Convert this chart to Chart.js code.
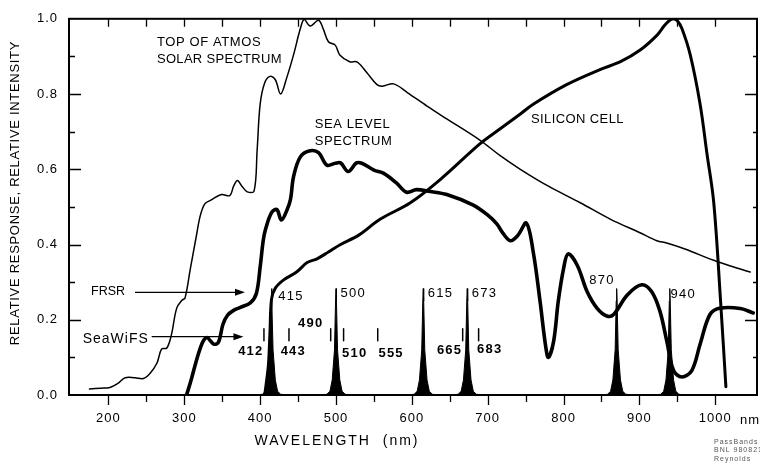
<!DOCTYPE html>
<html>
<head>
<meta charset="utf-8">
<script src="https://cdn.jsdelivr.net/npm/chart.js@4.4.1/dist/chart.umd.min.js"></script>
<style>
  html, body { margin: 0; padding: 0; background: #fff; }
</style>
</head>
<body>
<canvas id="chart" width="760" height="466"></canvas>
<script>
// top of atmosphere solar spectrum (wavelength nm, relative intensity)
var solarWl = [175, 190, 202, 212, 222, 235, 246, 255, 264, 270, 277, 283, 290, 297, 301, 308, 316, 321, 327, 335,
  349, 360, 365, 370, 376, 383, 392, 396, 400, 406, 413, 420, 427, 435, 444, 453, 458, 466, 477, 483,
  490, 499, 505, 518, 528, 541, 554, 561, 576, 594, 620, 646, 690, 716, 743, 780, 822, 862, 900, 923,
  936, 960, 998, 1020, 1046];
var solarVal = [0.016, 0.018, 0.020, 0.030, 0.046, 0.046, 0.044, 0.058, 0.085, 0.122, 0.125, 0.160, 0.231, 0.252, 0.258, 0.336, 0.424, 0.476, 0.508, 0.518,
  0.533, 0.530, 0.555, 0.570, 0.555, 0.540, 0.542, 0.650, 0.773, 0.830, 0.847, 0.838, 0.800, 0.843, 0.904, 0.974, 0.998, 0.981, 0.996, 0.974,
  0.939, 0.930, 0.904, 0.886, 0.885, 0.856, 0.825, 0.821, 0.827, 0.804, 0.768, 0.734, 0.677, 0.637, 0.600, 0.555, 0.511, 0.467, 0.432, 0.410,
  0.404, 0.388, 0.358, 0.343, 0.327];

// sea level spectrum
var seaWl = [303, 309, 316, 322, 326, 330, 334, 339, 345, 351, 357, 365, 374, 387, 395, 400, 404, 407, 415, 422,
  428, 435, 440, 444, 453, 466, 477, 488, 499, 506, 516, 527, 534, 550, 563, 580, 593, 606, 624, 646,
  681, 699, 712, 720, 730, 740, 751, 760, 769, 776, 780, 787, 793, 800, 806, 818, 831, 844, 857, 866,
  884, 903, 916, 927, 936, 945, 956, 969, 980, 993, 1007, 1033, 1050];
var seaVal = [0.0, 0.040, 0.092, 0.130, 0.147, 0.153, 0.145, 0.135, 0.140, 0.188, 0.212, 0.225, 0.233, 0.245, 0.270, 0.340, 0.410, 0.440, 0.485, 0.493,
  0.465, 0.490, 0.520, 0.580, 0.633, 0.649, 0.644, 0.611, 0.616, 0.617, 0.594, 0.617, 0.616, 0.598, 0.589, 0.563, 0.539, 0.546, 0.541, 0.533,
  0.505, 0.480, 0.455, 0.430, 0.410, 0.425, 0.457, 0.380, 0.249, 0.135, 0.100, 0.144, 0.249, 0.336, 0.375, 0.345, 0.275, 0.231, 0.210, 0.214,
  0.266, 0.293, 0.275, 0.223, 0.144, 0.065, 0.048, 0.065, 0.135, 0.214, 0.231, 0.230, 0.218];

// silicon cell response
var siliconWl = [406, 408, 411, 413, 415, 420, 431, 448, 462, 475, 490, 506, 530, 558, 598, 637, 690, 716, 743, 760,
  804, 848, 875, 901, 923, 933, 940, 945, 950, 956, 967, 980, 989, 998, 1007, 1014];
var siliconVal = [0.0, 0.030, 0.083, 0.170, 0.255, 0.284, 0.306, 0.327, 0.352, 0.362, 0.380, 0.400, 0.425, 0.467, 0.511, 0.572, 0.668, 0.707, 0.747, 0.773,
  0.825, 0.865, 0.886, 0.917, 0.956, 0.982, 0.996, 1.0, 0.995, 0.974, 0.904, 0.773, 0.642, 0.511, 0.249, 0.022];

// FRSR filter passbands: centres and one shared passband profile
var frsrBands = [415, 500, 615, 673, 870, 940];
var bandOffsets = [-20, -12, -8, -5, -2, -0.6, 0, 0.6, 2, 5, 8, 12, 20];
var bandShape = [0, 0.002, 0.01, 0.04, 0.12, 0.25, 0.283, 0.25, 0.12, 0.04, 0.01, 0.002, 0];

// SeaWiFS band markers (as drawn)
var seawifsBands = [405, 438, 493, 510, 555, 667, 688];
var seawifsLow = 0.144;
var seawifsHigh = 0.176;

// axes
var xLabelValues = [200, 300, 400, 500, 600, 700, 800, 900, 1000];
var xTickMarks = [200, 250, 300, 350, 400, 450, 500, 550, 600, 650, 700, 750, 800, 850, 900, 950, 1000];
var yLabelValues = [0, 0.2, 0.4, 0.6, 0.8, 1.0];
var yTickMarks = [0.1, 0.2, 0.3, 0.4, 0.5, 0.6, 0.7, 0.8, 0.9];

var FONT = "'Liberation Sans', Arial, sans-serif";

function pairs(xs, ys) {
  return xs.map(function (w, i) { return { x: w, y: ys[i] }; });
}

var datasets = [];

datasets.push({ data: pairs(siliconWl, siliconVal), borderWidth: 3, tension: 0.35 });
datasets.push({ data: pairs(seaWl, seaVal), borderWidth: 3.6, tension: 0.35 });
datasets.push({ data: pairs(solarWl, solarVal), borderWidth: 1.5, tension: 0.35 });

var barPoints = [];
seawifsBands.forEach(function (w) {
  barPoints.push({ x: w, y: seawifsLow }, { x: w, y: seawifsHigh }, { x: w, y: null });
});
datasets.push({ data: barPoints, borderWidth: 1.5, spanGaps: false });

frsrBands.forEach(function (c) {
  datasets.push({
    data: pairs(bandOffsets.map(function (o) { return c + o; }), bandShape),
    borderWidth: 1,
    fill: 'origin',
    backgroundColor: '#000'
  });
});

datasets.forEach(function (d) {
  d.borderColor = '#000';
  d.pointRadius = 0;
  d.borderJoinStyle = 'round';
  d.borderCapStyle = 'round';
});

// text placed inside the plot, in data units
var plotTexts = [
  { text: 'TOP OF ATMOS', wl: 264, val: 0.938, size: 13, sp: 0.6 },
  { text: 'SOLAR SPECTRUM', wl: 264, val: 0.892, size: 13, sp: 0.3 },
  { text: 'SEA LEVEL', wl: 472, val: 0.719, size: 13, sp: 0.6 },
  { text: 'SPECTRUM', wl: 472, val: 0.673, size: 13, sp: 0.6 },
  { text: 'SILICON CELL', wl: 757, val: 0.732, size: 13, sp: 0.4 },
  { text: 'FRSR', wl: 177, val: 0.275, size: 12.5, sp: 0 },
  { text: 'SeaWiFS', wl: 166, val: 0.149, size: 14, sp: 1 },
  { text: '415', wl: 424, val: 0.262, size: 13, sp: 1.2 },
  { text: '500', wl: 506, val: 0.270, size: 13, sp: 1.2 },
  { text: '615', wl: 621, val: 0.270, size: 13, sp: 1.2 },
  { text: '673', wl: 679, val: 0.270, size: 13, sp: 1.2 },
  { text: '870', wl: 834, val: 0.304, size: 13, sp: 1.2 },
  { text: '940', wl: 941, val: 0.267, size: 13, sp: 1.2 },
  { text: '412', wl: 371, val: 0.115, size: 13, sp: 1.2, bold: true },
  { text: '443', wl: 427, val: 0.115, size: 13, sp: 1.2, bold: true },
  { text: '490', wl: 450, val: 0.189, size: 13, sp: 1.2, bold: true },
  { text: '510', wl: 508, val: 0.110, size: 13, sp: 1.2, bold: true },
  { text: '555', wl: 556, val: 0.110, size: 13, sp: 1.2, bold: true },
  { text: '665', wl: 633, val: 0.118, size: 13, sp: 1.2, bold: true },
  { text: '683', wl: 686, val: 0.120, size: 13, sp: 1.2, bold: true }
];

var arrows = [
  { from: 235, to: 380, val: 0.273 },
  { from: 257, to: 378, val: 0.155 }
];

var framePlugin = {
  id: 'frame',
  beforeDraw: function (chart) {
    chart.ctx.letterSpacing = '1px';
  },
  afterDraw: function (chart) {
    var ctx = chart.ctx;
    var a = chart.chartArea;
    var x = chart.scales.x;
    var y = chart.scales.y;

    ctx.save();
    ctx.strokeStyle = '#000';
    ctx.fillStyle = '#000';

    // box
    ctx.lineWidth = 2;
    ctx.strokeRect(a.left, a.top, a.right - a.left, a.bottom - a.top);

    // tick marks
    ctx.lineWidth = 1.3;
    ctx.beginPath();
    xTickMarks.forEach(function (w) {
      var px = Math.round(x.getPixelForValue(w)) + 0.5;
      var major = w % 100 === 0;
      ctx.moveTo(px, a.bottom);
      ctx.lineTo(px, a.bottom + (major ? 10 : 7));
      ctx.moveTo(px, a.top);
      ctx.lineTo(px, a.top + 8);
    });
    yTickMarks.forEach(function (v, i) {
      var py = Math.round(y.getPixelForValue(v)) + 0.5;
      var major = i % 2 === 1;
      ctx.moveTo(a.left, py);
      ctx.lineTo(a.left + (major ? 12 : 6), py);
      ctx.moveTo(a.right, py);
      ctx.lineTo(a.right - (major ? 12 : 4), py);
    });
    ctx.stroke();

    // arrows
    ctx.lineWidth = 1.3;
    arrows.forEach(function (ar) {
      var x0 = x.getPixelForValue(ar.from);
      var x1 = x.getPixelForValue(ar.to);
      var py = y.getPixelForValue(ar.val);
      ctx.beginPath();
      ctx.moveTo(x0, py);
      ctx.lineTo(x1 - 8, py);
      ctx.stroke();
      ctx.beginPath();
      ctx.moveTo(x1, py);
      ctx.lineTo(x1 - 10, py - 3.5);
      ctx.lineTo(x1 - 10, py + 3.5);
      ctx.closePath();
      ctx.fill();
    });

    // labels in the plot
    ctx.textBaseline = 'middle';
    ctx.textAlign = 'left';
    plotTexts.forEach(function (t) {
      ctx.font = (t.bold ? 'bold ' : '') + t.size + 'px ' + FONT;
      ctx.letterSpacing = t.sp + 'px';
      ctx.fillText(t.text, x.getPixelForValue(t.wl), y.getPixelForValue(t.val));
    });

    // unit after the last tick label
    ctx.font = '13px ' + FONT;
    ctx.letterSpacing = '1px';
    ctx.fillText('nm', 740, 420);

    // axis titles
    ctx.font = '14px ' + FONT;
    ctx.letterSpacing = '2px';
    ctx.textAlign = 'center';
    ctx.fillText('WAVELENGTH  (nm)', 337, 441);

    ctx.save();
    ctx.translate(15, 193);
    ctx.rotate(-Math.PI / 2);
    ctx.font = '13px ' + FONT;
    ctx.letterSpacing = '0.7px';
    ctx.fillText('RELATIVE RESPONSE, RELATIVE INTENSITY', 0, 0);
    ctx.restore();

    // small file note
    ctx.font = '7px ' + FONT;
    ctx.letterSpacing = '1px';
    ctx.textAlign = 'left';
    ctx.fillStyle = '#555';
    ctx.fillText('PassBands', 714, 442);
    ctx.fillText('BNL 980821', 714, 450);
    ctx.fillText('Reynolds', 714, 459);

    ctx.restore();
  }
};

Chart.defaults.font.family = FONT;
Chart.defaults.font.size = 13;
Chart.defaults.color = '#000';

var chart = new Chart(document.getElementById('chart'), {
  type: 'line',
  data: { datasets: datasets },
  options: {
    responsive: false,
    animation: false,
    layout: { padding: { top: 13, right: 3, left: 0, bottom: 0 } },
    plugins: {
      legend: { display: false },
      tooltip: { enabled: false }
    },
    elements: { line: { tension: 0 } },
    scales: {
      x: {
        type: 'linear',
        min: 148,
        max: 1055,
        grid: { display: false, drawTicks: false },
        border: { display: false },
        afterBuildTicks: function (s) {
          s.ticks = xLabelValues.map(function (v) { return { value: v }; });
        },
        afterFit: function (s) { s.height = 71; },
        ticks: {
          padding: 16,
          maxRotation: 0,
          autoSkip: false,
          callback: function (v) { return String(v); }
        }
      },
      y: {
        min: 0,
        max: 1,
        grid: { display: false, drawTicks: false },
        border: { display: false },
        afterBuildTicks: function (s) {
          s.ticks = yLabelValues.map(function (v) { return { value: v }; });
        },
        afterFit: function (s) { s.width = 69; },
        ticks: {
          padding: 11,
          callback: function (v) { return v.toFixed(1); }
        }
      }
    }
  },
  plugins: [framePlugin]
});
</script>
</body>
</html>
